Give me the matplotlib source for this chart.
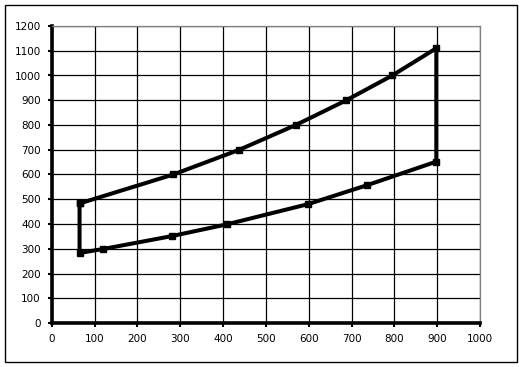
import matplotlib
matplotlib.use("Agg")
import matplotlib.pyplot as plt
from matplotlib.patches import Rectangle

# Closed cycle: upper branch, right vertical, lower branch back, left vertical
upper_x = [65, 284, 438, 570, 688, 795, 898]
upper_y = [483, 600, 700, 800, 900, 1000, 1110]
lower_x = [898, 735, 598, 410, 280, 120, 65]
lower_y = [652, 556, 480, 399, 351, 299, 283]

x_ticks = [0, 100, 200, 300, 400, 500, 600, 700, 800, 900, 1000]
y_ticks = [0, 100, 200, 300, 400, 500, 600, 700, 800, 900, 1000, 1100, 1200]

W, H = 523, 367
fig = plt.figure(figsize=(W / 100, H / 100), dpi=100)
ax = fig.add_axes([51.7 / W, 1 - 323 / H, (480 - 51.7) / W, (323 - 26) / H])

xs = upper_x + lower_x + [upper_x[0]]
ys = upper_y + lower_y + [upper_y[0]]
ax.plot(xs, ys, color="black", lw=2.9, marker="s", ms=3.8, mfc="black", mec="black",
        solid_joinstyle="miter", clip_on=False, zorder=3)

ax.set_xlim(0, 1000)
ax.set_ylim(0, 1200)
ax.set_xticks(x_ticks)
ax.set_yticks(y_ticks)
ax.grid(True, color="black", lw=0.9)
ax.set_axisbelow(True)
ax.tick_params(labelsize=7.5, length=3, width=1.5, direction="out", pad=5)
for s in ["left", "bottom"]:
    ax.spines[s].set_linewidth(2.6)
    ax.spines[s].set_color("black")
for s in ["top", "right"]:
    ax.spines[s].set_linewidth(0.9)
    ax.spines[s].set_color("#808080")

fig.patches.append(Rectangle((5 / W, 1 - 362 / H), (517 - 5) / W, (362 - 5) / H,
                             transform=fig.transFigure, fill=False, ec="black", lw=1))

fig.savefig("out.png", dpi=100)
